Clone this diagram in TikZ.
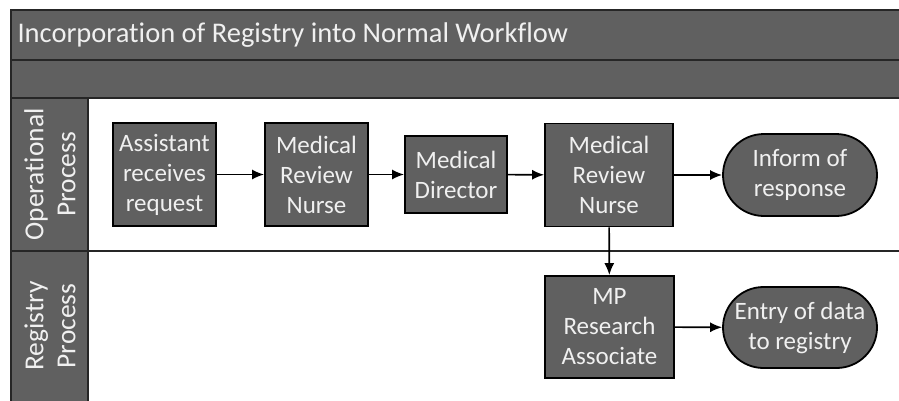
\documentclass[tikz,border=0pt]{standalone}
\usepackage{fontspec}
\setmainfont[Ligatures=NoCommon]{Carlito}
\usetikzlibrary{arrows.meta,shapes.misc}
\definecolor{bandgray}{HTML}{606060}
\definecolor{inkwhite}{HTML}{F0F0F0}
\tikzset{
  band/.style={fill=bandgray, draw=black!85, line width=2pt},
  lanetext/.style={text=inkwhite, font=\fontsize{27.5}{32}\selectfont, align=center, rotate=90},
  stepbox/.style={rectangle, fill=bandgray, draw=black, line width=1.8pt, text=inkwhite,
    font=\fontsize{25}{30}\selectfont, align=center, inner sep=0pt},
  endbox/.style={rounded rectangle, fill=bandgray, draw=black, line width=1.8pt, text=inkwhite,
    font=\fontsize{25}{30}\selectfont, align=center, inner sep=0pt,
    minimum width=154pt, minimum height=82pt},
  flow/.style={line width=1.6pt, -{Latex[length=12pt,width=10pt]}}
}
\begin{document}
\begin{tikzpicture}[x=1pt,y=-1pt]
\fill[white] (0,0) rectangle (899,400);
\clip (0,0) rectangle (899,400);
% header bands
\draw[band] (11,10) rectangle (920,60);
\draw[band] (11,60) rectangle (920,98);
\node[anchor=west, text=inkwhite, font=\fontsize{28.5}{32}\selectfont] (title) at (14,35) {Incorporation of Registry into Normal Workflow};
% swimlanes
\draw[black!85, line width=2pt] (88,98) rectangle (920,251);
\draw[black!85, line width=2pt] (88,251) rectangle (920,420);
\draw[band] (11,98) rectangle (88,251);
\draw[band] (11,251) rectangle (88,420);
\node[lanetext] (lane1) at (50,174.5) {Operational\\Process};
\node[lanetext] (lane2) at (50,326) {Registry\\Process};
% operational process
\node[stepbox, minimum width=103pt, minimum height=103pt] (assist) at (164.5,174.5) {Assistant\\receives\\request};
\node[stepbox, minimum width=103pt, minimum height=103pt] (nurse1) at (316.5,174.5) {Medical\\Review\\Nurse};
\node[stepbox, minimum width=102pt, minimum height=77pt] (director) at (456,174.5) {Medical\\Director};
\node[stepbox, minimum width=128pt, minimum height=103pt] (nurse2) at (609,175) {Medical\\Review\\Nurse};
\node[endbox] (inform) at (800,175) {Inform of\\response};
% registry process
\node[stepbox, minimum width=129pt, minimum height=102pt] (mpra) at (609.5,327) {MP\\Research\\Associate};
\node[endbox, minimum height=81pt] (entry) at (800,327.5) {Entry of data\\to registry};
% connectors
\draw[flow] (assist) -- (nurse1);
\draw[flow] (nurse1) -- (director);
\draw[flow] (director) -- (nurse2);
\draw[flow] (nurse2) -- (inform);
\draw[flow] (nurse2) -- (mpra);
\draw[flow] (mpra) -- (entry);
\end{tikzpicture}
\end{document}
